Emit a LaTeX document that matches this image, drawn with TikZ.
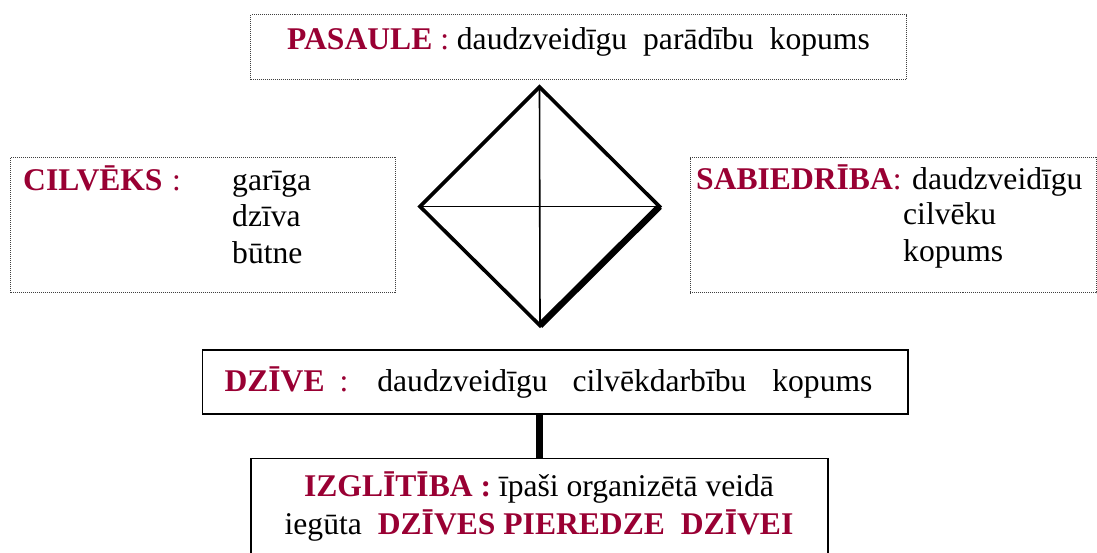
\documentclass[tikz,border=0pt]{standalone}
\usepackage{fontspec}
\setmainfont{Liberation Serif}
\definecolor{dred}{RGB}{153,0,51}
\newcommand{\rb}[1]{\textcolor{dred}{\textbf{#1}}}
\begin{document}
\begin{tikzpicture}[x=1bp,y=-1bp,
  dotbox/.style={draw=black!75, densely dotted, line width=1bp, inner sep=0pt},
  solidbox/.style={draw=black, line width=1.6bp, inner sep=0pt},
  txt/.style={inner sep=0pt, font=\fontsize{31.6bp}{38bp}\selectfont},
  edge/.style={line width=3.6bp, line join=miter},
  thinline/.style={line width=1.6bp}]
\useasboundingbox (0,0) rectangle (1097,553);
\clip (0,0) rectangle (1097,553);

% boxes
\node[dotbox, minimum width=656bp, minimum height=65.3bp] (pasaule) at (578.7,47.35) {};
\node[dotbox, minimum width=384bp, minimum height=135.4bp] (cilveks) at (203,225) {};
\node[dotbox, minimum width=406bp, minimum height=135bp] (sabiedriba) at (893,225.5) {};
\node[solidbox, minimum width=705bp, minimum height=64bp] (dzive) at (555.2,382) {};
\node[solidbox, minimum width=576.7bp, minimum height=110bp] (izgl) at (539.35,513.3) {};

% connector
\draw[line width=7bp] (dzive.south -| izgl.north) -- (izgl.north);

% diamond
\coordinate (dt) at (539.5,87);
\coordinate (dl) at (420,206.5);
\coordinate (dr) at (659.5,206.5);
\coordinate (db) at (540,325.5);
\draw[thinline] (dt) -- (db);
\draw[thinline] (dl) -- (dr);
\draw[edge] (dt) -- (dr) -- (db) -- (dl) -- cycle;
\draw[line width=6.5bp] (dr) -- (db);

% texts
\node[txt, anchor=base] (tpas) at (578.5,49.3)
  {\rb{PASAULE}\hspace{0.25em}\textcolor{dred}{:} daudzveidīgu\hspace{16bp}parādību\hspace{16bp}kopums};

\node[txt, anchor=base west] (tcil) at (23,191) {\rb{CILVĒKS}\hspace{0.3em}\textcolor{dred}{:}};
\node[txt, anchor=base west] (tcil1) at (232,191) {garīga};
\node[txt, anchor=base west] (tcil2) at (232,227) {dzīva};
\node[txt, anchor=base west] (tcil3) at (232,264) {būtne};

\node[txt, anchor=base west] (tsab) at (696,190) {\rb{SABIEDRĪBA}\textcolor{dred}{:}};
\node[txt, anchor=base west] (tsab1) at (912,190) {daudzveidīgu};
\node[txt, anchor=base west] (tsab2) at (903,225) {cilvēku};
\node[txt, anchor=base west] (tsab3) at (903,262) {kopums};

\node[txt, anchor=base west] (tdz) at (224.3,391.7)
  {\rb{DZĪVE}\hspace{15bp}\textcolor{dred}{:}\hspace{29bp}daudzveidīgu\hspace{25bp}cilvēkdarbību\hspace{26bp}kopums};

\node[txt, anchor=base] (tiz1) at (539,496.7) {\rb{IZGLĪTĪBA :} īpaši organizētā veidā};
\node[txt, anchor=base] (tiz2) at (539,534) {iegūta\hspace{16bp}\rb{DZĪVES PIEREDZE\hspace{16bp}DZĪVEI}};
\end{tikzpicture}
\end{document}
